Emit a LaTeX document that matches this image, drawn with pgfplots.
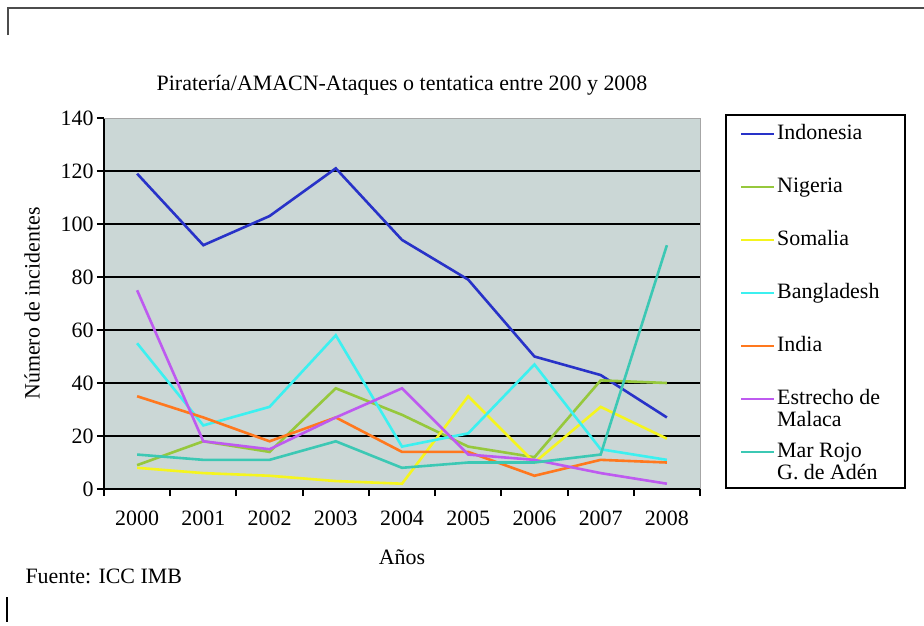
\documentclass[border=0pt]{standalone}
\usepackage{fontspec}
\setmainfont{Liberation Serif}
\usepackage{pgfplots}
\pgfplotsset{compat=1.18}

\definecolor{plotbg}{RGB}{203,215,214}
\definecolor{cindo}{RGB}{40,50,200}
\definecolor{cnig}{RGB}{150,200,60}
\definecolor{csom}{RGB}{245,245,30}
\definecolor{cban}{RGB}{60,240,240}
\definecolor{cind}{RGB}{255,120,30}
\definecolor{cmal}{RGB}{190,90,240}
\definecolor{cmar}{RGB}{60,200,180}

\newcommand{\chartfont}{\fontsize{22}{22}\selectfont}

\begin{document}
\begin{tikzpicture}
\path[use as bounding box] (0,0) rectangle (924bp,-626bp);
% page frame remnants
\draw[black!70, line width=1.5bp] (8bp,-35bp) -- (8bp,-8bp) -- (924bp,-8bp);
\draw[black, line width=1.2bp] (7bp,-597bp) -- (7bp,-622bp);

\node[font=\chartfont] at (402bp,-85bp) {Piratería/AMACN-Ataques o tentatica entre 200 y 2008};
\node[font=\chartfont, anchor=west] at (22bp,-576bp) {Fuente: ICC IMB};

% legend box
\draw[black, line width=2.5bp] (726bp,-115bp) rectangle (905bp,-488bp);

\begin{axis}[
  at={(104bp,-489bp)}, anchor=south west,
  width=596bp, height=371bp, scale only axis,
  xmin=0, xmax=9, ymin=0, ymax=140,
  axis background/.style={fill=plotbg},
  axis x line=bottom, axis y line=left,
  axis line style={-, black, line width=2.5bp},
  xtick={0,...,9}, xticklabels={},
  extra x ticks={0.5,1.5,...,8.5},
  extra x tick labels={2000,2001,2002,2003,2004,2005,2006,2007,2008},
  extra x tick style={major tick length=0pt, grid=none},
  x tick label style={yshift=-18bp},
  ytick={0,20,...,120},
  extra y ticks={140},
  extra y tick style={grid=none},
  ymajorgrids,
  grid style={black, line width=2.5bp},
  tick align=outside,
  major tick length=7bp,
  tick style={black, line width=2bp},
  ticklabel style={font=\chartfont},
  /pgf/number format/assume math mode=true,
  xlabel={Años}, ylabel={Número de incidentes},
  label style={font=\chartfont},
  xlabel style={yshift=-11bp},
  legend cell align=left,
  legend image code/.code={\draw[#1, line width=2bp] (0bp,0bp) -- (33bp,0bp);},
  legend style={at={(1.0671,0.984)}, anchor=north west, draw=none, fill=none,
    inner sep=0pt, row sep=33bp, font=\chartfont,
    nodes={inner xsep=2bp, inner ysep=0bp, text height=15bp, text depth=5bp}},
  every axis plot/.append style={line width=2.6bp},
  after end axis/.code={
    \draw[black!35, line width=1bp] (rel axis cs:0,1) -- (rel axis cs:1,1) -- (rel axis cs:1,0);
  },
]
\addplot[cindo] coordinates {(0.5,119) (1.5,92) (2.5,103) (3.5,121) (4.5,94) (5.5,79) (6.5,50) (7.5,43) (8.5,27)};
\addlegendentry{Indonesia}
\addplot[cnig] coordinates {(0.5,9) (1.5,18) (2.5,14) (3.5,38) (4.5,28) (5.5,16) (6.5,12) (7.5,41) (8.5,40)};
\addlegendentry{Nigeria}
\addplot[csom] coordinates {(0.5,8) (1.5,6) (2.5,5) (3.5,3) (4.5,2) (5.5,35) (6.5,10) (7.5,31) (8.5,19)};
\addlegendentry{Somalia}
\addplot[cban] coordinates {(0.5,55) (1.5,24) (2.5,31) (3.5,58) (4.5,16) (5.5,21) (6.5,47) (7.5,15) (8.5,11)};
\addlegendentry{Bangladesh}
\addplot[cind] coordinates {(0.5,35) (1.5,27) (2.5,18) (3.5,27) (4.5,14) (5.5,14) (6.5,5) (7.5,11) (8.5,10)};
\addlegendentry{India}
\addplot[cmal] coordinates {(0.5,75) (1.5,18) (2.5,15) (3.5,27) (4.5,38) (5.5,13) (6.5,11) (7.5,6) (8.5,2)};
\addlegendentry{\begin{tabular}[t]{@{}l@{}}Estrecho de\\Malaca\end{tabular}}
\addplot[cmar] coordinates {(0.5,13) (1.5,11) (2.5,11) (3.5,18) (4.5,8) (5.5,10) (6.5,10) (7.5,13) (8.5,92)};
\addlegendentry{\begin{tabular}[t]{@{}l@{}}Mar Rojo\\G. de Adén\end{tabular}}
\end{axis}
\end{tikzpicture}
\end{document}
